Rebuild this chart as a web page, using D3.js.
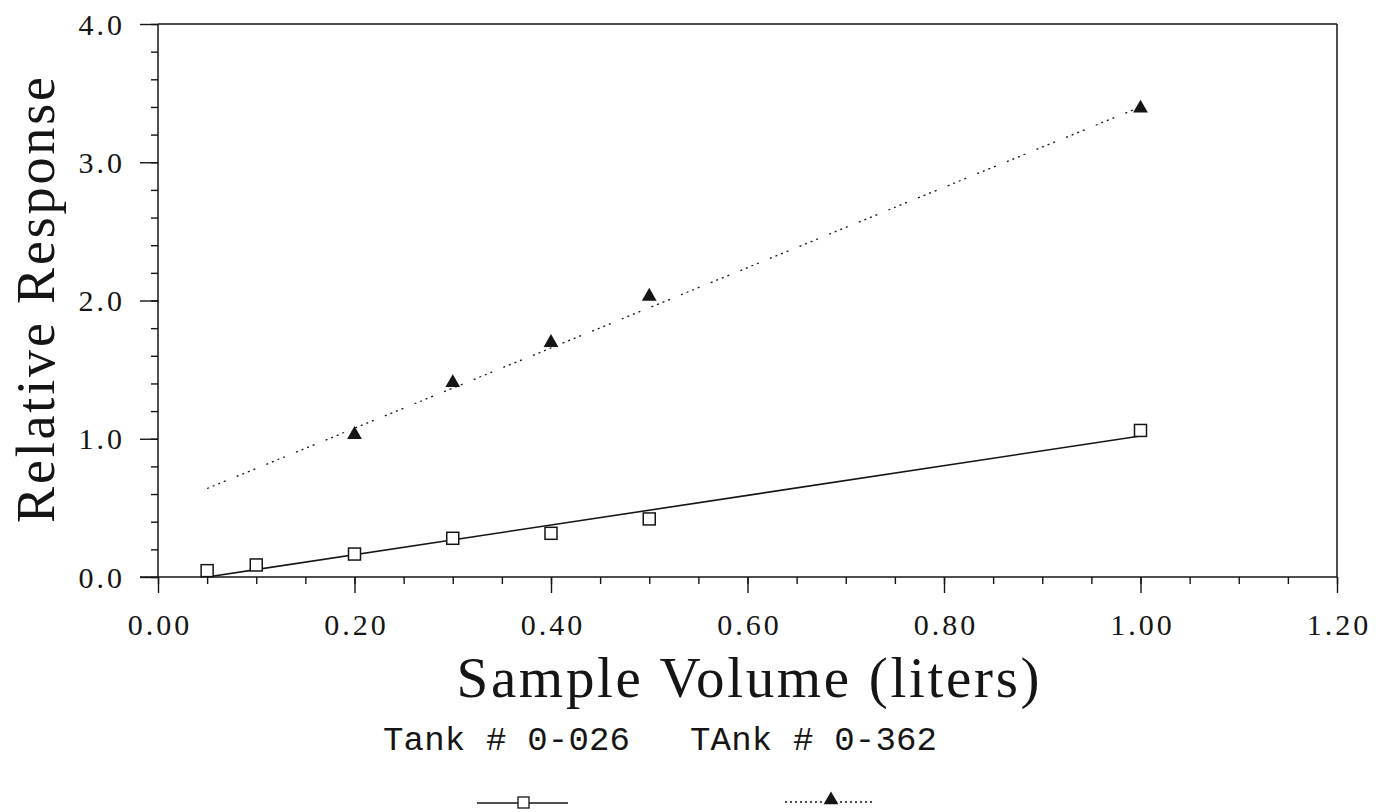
<!DOCTYPE html>
<html><head><meta charset="utf-8">
<script src="https://cdn.jsdelivr.net/npm/d3@7"></script>
<style>body{margin:0;background:#fff}svg{display:block}</style></head>
<body><svg id="c" width="1379" height="812"></svg>
<script>
// ---- data ----
const volumes026 = [0.05, 0.10, 0.20, 0.30, 0.40, 0.50, 1.00];
const response026 = [0.046, 0.087, 0.166, 0.28, 0.316, 0.42, 1.06];
const volumes362 = [0.20, 0.30, 0.40, 0.50, 1.00];
const response362 = [1.03, 1.405, 1.695, 2.03, 3.39];
const fitX026 = [0.05, 1.00];
const fitY026 = [0.00, 1.02];
const fitX362 = [0.05, 1.00];
const fitY362 = [0.64, 3.40];
const xTickValues = [0, 0.2, 0.4, 0.6, 0.8, 1.0, 1.2];
const xTickLabels = ["0.00", "0.20", "0.40", "0.60", "0.80", "1.00", "1.20"];
const yTickValues = [0, 1, 2, 3, 4];
const yTickLabels = ["0.0", "1.0", "2.0", "3.0", "4.0"];
const xMinorTicks = d3.range(0, 25).map(i => i * 0.05);
const yMinorTicks = d3.range(0, 21).map(i => i * 0.2);
const seriesNames = ["Tank # 0-026", "TAnk # 0-362"];
const xTitle = "Sample Volume (liters)";
const yTitle = "Relative Response";

// ---- layout ----
const L = 158, R = 1337, T = 24, B = 577;
const svg = d3.select("#c");
const x = d3.scaleLinear().domain([0, 1.2]).range([L, R]);
const y = d3.scaleLinear().domain([0, 4]).range([B, T]);
const ink = "#151515";

// frame top & right
svg.append("line").attr("x1", L).attr("x2", R).attr("y1", T).attr("y2", T)
  .attr("stroke", ink).attr("stroke-width", 1.5);
svg.append("line").attr("x1", R).attr("x2", R).attr("y1", T).attr("y2", B)
  .attr("stroke", ink).attr("stroke-width", 1.5);

// x axes
const gxMinor = svg.append("g").attr("transform", `translate(0,${B})`)
  .call(d3.axisBottom(x).tickValues(xMinorTicks).tickSize(7).tickFormat(""));
const gx = svg.append("g").attr("transform", `translate(0,${B})`)
  .call(d3.axisBottom(x).tickValues(xTickValues).tickSize(16)
    .tickFormat((d, i) => xTickLabels[i]));
// y axes
const gyMinor = svg.append("g").attr("transform", `translate(${L},0)`)
  .call(d3.axisLeft(y).tickValues(yMinorTicks).tickSize(7).tickFormat(""));
const gy = svg.append("g").attr("transform", `translate(${L},0)`)
  .call(d3.axisLeft(y).tickValues(yTickValues).tickSize(18)
    .tickFormat((d, i) => yTickLabels[i]));

[gxMinor, gx, gyMinor, gy].forEach(g => {
  g.selectAll("path.domain").attr("stroke", ink).attr("stroke-width", 1.5);
  g.selectAll(".tick line").attr("stroke", ink).attr("stroke-width", 1.4);
});
gx.selectAll("path.domain").attr("d", `M${L - 18},0H${R}`);
gy.selectAll("path.domain").attr("d", `M0,${T}V${B}`);
gxMinor.selectAll("path.domain").remove();
gyMinor.selectAll("path.domain").remove();

gx.selectAll(".tick text")
  .attr("y", 58).attr("dy", 0)
  .attr("font-family", "'Liberation Serif', serif").attr("font-size", 30)
  .attr("letter-spacing", 3).attr("fill", ink).attr("dx", 1.5);
gy.selectAll(".tick text")
  .attr("x", -33).attr("dy", "0.34em")
  .attr("font-family", "'Liberation Serif', serif").attr("font-size", 30)
  .attr("letter-spacing", 3).attr("fill", ink);

// titles
svg.append("text").attr("x", 748).attr("y", 697).attr("text-anchor", "middle")
  .attr("font-family", "'Liberation Serif', serif").attr("font-size", 57)
  .attr("textLength", 583).attr("lengthAdjust", "spacing")
  .attr("fill", ink).text(xTitle);
svg.append("text").attr("transform", `translate(54,300) rotate(-90)`)
  .attr("text-anchor", "middle")
  .attr("font-family", "'Liberation Serif', serif").attr("font-size", 54)
  .attr("textLength", 446).attr("lengthAdjust", "spacing")
  .attr("fill", ink).text(yTitle);

// fit lines
const line = d3.line().x(d => x(d[0])).y(d => y(d[1]));
svg.append("path").datum(d3.zip(fitX026, fitY026)).attr("d", line)
  .attr("fill", "none").attr("stroke", ink).attr("stroke-width", 1.6);
svg.append("path").datum(d3.zip(fitX362, fitY362)).attr("d", line)
  .attr("fill", "none").attr("stroke", ink).attr("stroke-width", 1.3)
  .attr("stroke-dasharray", "2,4,2,4,2,4,2,12");

// markers
const sq = 12;
svg.append("g").selectAll("rect").data(d3.zip(volumes026, response026)).join("rect")
  .attr("x", d => x(d[0]) - sq / 2).attr("y", d => y(d[1]) - sq / 2)
  .attr("width", sq).attr("height", sq)
  .attr("fill", "#fff").attr("stroke", ink).attr("stroke-width", 1.5);
const tri = d3.symbol().type(d3.symbolTriangle).size(95);
svg.append("g").selectAll("path").data(d3.zip(volumes362, response362)).join("path")
  .attr("transform", d => `translate(${x(d[0])},${y(d[1])})`)
  .attr("d", tri).attr("fill", ink);

// legend
const legendX = [383, 690];
svg.selectAll("text.leg").data(seriesNames).join("text").attr("class", "leg")
  .attr("x", (d, i) => legendX[i]).attr("y", 750)
  .attr("font-family", "'Liberation Mono', monospace").attr("font-size", 34)
  .attr("textLength", 247).attr("lengthAdjust", "spacing")
  .attr("fill", ink).text(d => d);
// legend sample 1
svg.append("line").attr("x1", 477).attr("x2", 568).attr("y1", 803).attr("y2", 803)
  .attr("stroke", ink).attr("stroke-width", 1.3);
svg.append("rect").attr("x", 518).attr("y", 797).attr("width", 11).attr("height", 11)
  .attr("fill", "#fff").attr("stroke", ink).attr("stroke-width", 1.3);
// legend sample 2
svg.append("line").attr("x1", 785).attr("x2", 875).attr("y1", 802).attr("y2", 802)
  .attr("stroke", ink).attr("stroke-width", 1.3).attr("stroke-dasharray", "2,3");
svg.append("path").attr("transform", "translate(831,800)").attr("d", tri).attr("fill", ink);
</script>
</body></html>
